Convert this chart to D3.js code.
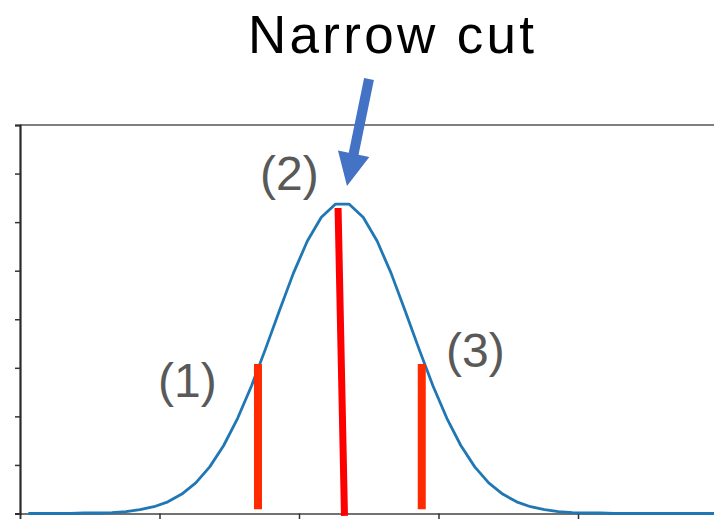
<!DOCTYPE html>
<html>
<head>
<meta charset="utf-8">
<script src="https://cdn.jsdelivr.net/npm/d3@7"></script>
<style>
  html, body { margin: 0; padding: 0; background: #fff; }
  svg { display: block; }
</style>
</head>
<body>
<svg id="chart" width="714" height="519"></svg>
<script>
// Sampled density curve (x, y)
const curveX = [0.06, 0.16, 0.26, 0.36, 0.46, 0.56, 0.66, 0.76, 0.86, 0.96,
                1.06, 1.16, 1.26, 1.36, 1.46, 1.56, 1.66, 1.76, 1.86, 1.96,
                2.06, 2.16, 2.26, 2.36, 2.46, 2.56, 2.66, 2.76, 2.86, 2.96,
                3.06, 3.16, 3.26, 3.36, 3.46, 3.56, 3.66, 3.76, 3.86, 3.96,
                4.06, 4.16, 4.26, 4.36, 4.46, 4.56, 4.66, 4.76, 4.86, 4.96, 5.06];
const curveY = [0.00, 0.00, 0.00, 0.00, 0.01, 0.01, 0.02, 0.04, 0.08, 0.14,
                0.24, 0.40, 0.63, 0.96, 1.40, 1.96, 2.63, 3.39, 4.18, 4.95,
                5.61, 6.10, 6.37, 6.37, 6.10, 5.61, 4.95, 4.18, 3.39, 2.63,
                1.96, 1.40, 0.96, 0.63, 0.40, 0.24, 0.14, 0.08, 0.04, 0.02,
                0.01, 0.01, 0.00, 0.00, 0.00, 0.00, 0.00, 0.00, 0.00, 0.00, 0.00];

// Cut positions: top and bottom end of each cut line
const cutNames = ["(1)", "(2)", "(3)"];
const cutTopX = [1.706, 2.280, 2.880];
const cutTopY = [3.08, 6.29, 3.08];
const cutBottomX = [1.706, 2.326, 2.880];
const cutBottomY = [0.09, -0.05, 0.09];

const xTicks = [0, 1, 2, 3, 4, 5];
const yTicks = [0, 1, 2, 3, 4, 5, 6, 7, 8];

const svg = d3.select("#chart");
const plotLeft = 20, plotRight = 717.5, plotTop = 125, plotBottom = 513.5;

const x = d3.scaleLinear().domain([0, 5]).range([plotLeft, plotRight]);
const y = d3.scaleLinear().domain([0, 8]).range([plotBottom, plotTop]);

// Frame: top spine
svg.append("line")
  .attr("x1", plotLeft).attr("x2", plotRight)
  .attr("y1", plotTop).attr("y2", plotTop)
  .attr("stroke", "#555").attr("stroke-width", 1.6);

// Axes
const yAxis = d3.axisLeft(y).tickValues(yTicks).tickSize(5).tickFormat("");
const xAxis = d3.axisBottom(x).tickValues(xTicks).tickSize(6).tickFormat("");

const gx = svg.append("g").attr("transform", `translate(0,${plotBottom})`).call(xAxis);
const gy = svg.append("g").attr("transform", `translate(${plotLeft},0)`).call(yAxis);
[gx, gy].forEach(g => {
  g.select(".domain").attr("stroke", "#444").attr("stroke-width", 1.6);
  g.selectAll(".tick line").attr("stroke", "#333").attr("stroke-width", 1.5);
});
gy.select(".domain").attr("stroke", "#2a2a2a").attr("stroke-width", 2.2);

// Density curve
const pts = curveX.map((v, i) => [v, curveY[i]]);
svg.append("path")
  .datum(pts)
  .attr("fill", "none")
  .attr("stroke", "#1f77b4")
  .attr("stroke-width", 2.8)
  .attr("stroke-linejoin", "round")
  .attr("d", d3.line().x(d => x(d[0])).y(d => y(d[1])));

// Cut lines
const cutColors = ["#ff2a00", "#ff0000", "#ff2a00"];
const cutWidths = [8, 7, 8];
cutNames.forEach((n, i) => {
  svg.append("line")
    .attr("x1", x(cutTopX[i])).attr("y1", y(cutTopY[i]))
    .attr("x2", x(cutBottomX[i])).attr("y2", y(cutBottomY[i]))
    .attr("stroke", cutColors[i])
    .attr("stroke-width", cutWidths[i]);
});

// Cut labels
const labelPos = [[158, 397], [260, 190], [446, 367]];
cutNames.forEach((n, i) => {
  svg.append("text")
    .attr("x", labelPos[i][0]).attr("y", labelPos[i][1])
    .attr("font-family", "Liberation Sans, Arial, sans-serif")
    .attr("font-size", 48)
    .attr("fill", "#595959")
    .text(n);
});

// Title annotation
svg.append("text")
  .attr("x", 248).attr("y", 53)
  .attr("font-family", "Liberation Sans, Arial, sans-serif")
  .attr("font-size", 53)
  .attr("letter-spacing", 3.3)
  .attr("fill", "#000")
  .text("Narrow cut");

// Arrow pointing down to the narrow cut
(function drawArrow(x0, y0, x1, y1, shaftW, headW, headL) {
  const dx = x1 - x0, dy = y1 - y0, len = Math.hypot(dx, dy);
  const ux = dx / len, uy = dy / len, px = -uy, py = ux;
  const bx = x1 - ux * headL, by = y1 - uy * headL;
  const p = [
    [x0 + px * shaftW / 2, y0 + py * shaftW / 2],
    [bx + px * shaftW / 2, by + py * shaftW / 2],
    [bx + px * headW / 2, by + py * headW / 2],
    [x1, y1],
    [bx - px * headW / 2, by - py * headW / 2],
    [bx - px * shaftW / 2, by - py * shaftW / 2],
    [x0 - px * shaftW / 2, y0 - py * shaftW / 2]
  ];
  svg.append("polygon")
    .attr("points", p.map(d => d.join(",")).join(" "))
    .attr("fill", "#4472c4");
})(369, 79, 347, 186, 10, 32, 33);
</script>
</body>
</html>
